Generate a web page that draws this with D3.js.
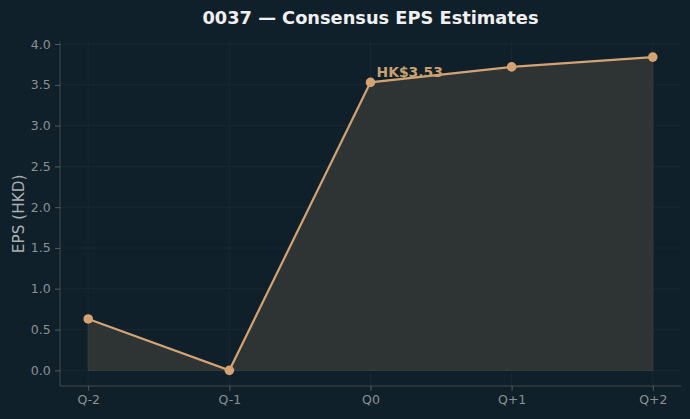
<!DOCTYPE html>
<html><head><meta charset="utf-8">
<script src="https://cdn.jsdelivr.net/npm/d3@7"></script>
<style>body{margin:0;background:#10202a;}svg{display:block;}</style>
</head><body>
<svg id="c" width="690" height="419"></svg>
<script>
const categories = ["Q-2","Q-1","Q0","Q+1","Q+2"];
const epsValues = [0.63, 0.0, 3.53, 3.72, 3.84];
const yTicks = [0.0,0.5,1.0,1.5,2.0,2.5,3.0,3.5,4.0];
const annotationText = "HK$3.53";
const titleText = "0037 — Consensus EPS Estimates";
const yLabel = "EPS (HKD)";

const svg = d3.select("#c");
const W=690,H=419;
const m={l:60,r:9,t:41.6,b:33};
const font="DejaVu Sans, sans-serif";

const x = d3.scaleLinear().domain([-0.2, categories.length-1+0.2]).range([m.l, W-m.r]);
const y = d3.scaleLinear().domain([-0.192, 4.03]).range([H-m.b, m.t]);

svg.append("rect").attr("width",W).attr("height",H).attr("fill","#10202a");

// grid
const g = svg.append("g");
g.selectAll(".gy").data(yTicks).enter().append("line")
 .attr("x1",m.l).attr("x2",W-m.r).attr("y1",d=>y(d)).attr("y2",d=>y(d))
 .attr("stroke","#1c2b33").attr("stroke-width",0.8);
g.selectAll(".gx").data(categories).enter().append("line")
 .attr("x1",(d,i)=>x(i)).attr("x2",(d,i)=>x(i)).attr("y1",m.t).attr("y2",H-m.b)
 .attr("stroke","#1c2b33").attr("stroke-width",0.8);

// area
const area = d3.area().x((d,i)=>x(i)).y0(y(0)).y1(d=>y(d));
svg.append("path").datum(epsValues).attr("d",area)
 .attr("fill","#2e3333").attr("stroke","#3a3d3c").attr("stroke-width",1);

const line = d3.line().x((d,i)=>x(i)).y(d=>y(d));
svg.append("path").datum(epsValues).attr("d",line)
 .attr("fill","none").attr("stroke","#d4a373").attr("stroke-width",2.2);
svg.selectAll(".pt").data(epsValues).enter().append("circle")
 .attr("cx",(d,i)=>x(i)).attr("cy",d=>y(d)).attr("r",4.8).attr("fill","#d4a373");

// annotation
svg.append("text").attr("x",x(2)+6).attr("y",y(epsValues[2])-5.5)
 .attr("font-family",font).attr("font-size",13.9).attr("font-weight","bold")
 .attr("fill","#c9a070").text(annotationText);

// axes
const yAxis = d3.axisLeft(y).tickValues(yTicks).tickFormat(d3.format(".1f")).tickSize(4.9).tickPadding(4.5);
const ya = svg.append("g").attr("transform",`translate(${m.l},0)`).call(yAxis);
const xAxis = d3.axisBottom(x).tickValues(d3.range(categories.length)).tickFormat(i=>categories[i]).tickSize(4.9).tickPadding(4.5);
const xa = svg.append("g").attr("transform",`translate(0,${H-m.b})`).call(xAxis);
[ya,xa].forEach(a=>{
  a.select(".domain").attr("stroke","#444a4c").attr("d", a===ya ? `M0,${m.t}V${H-m.b}` : `M${m.l},0H${W-m.r}`);
  a.selectAll(".tick line").attr("stroke","#555b5d");
  a.selectAll(".tick text").attr("fill","#8a9094").attr("font-family",font).attr("font-size",12.5);
});

svg.append("text").attr("transform",`translate(23.5,${(m.t+H-m.b)/2}) rotate(-90)`)
 .attr("text-anchor","middle").attr("font-family",font).attr("font-size",15.3)
 .attr("fill","#a9afb2").text(yLabel);

svg.append("text").attr("x",370.5).attr("y",23.5).attr("text-anchor","middle")
 .attr("font-family",font).attr("font-size",17.8).attr("font-weight","bold")
 .attr("fill","#f0f0f0").text(titleText);
</script>
</body></html>
